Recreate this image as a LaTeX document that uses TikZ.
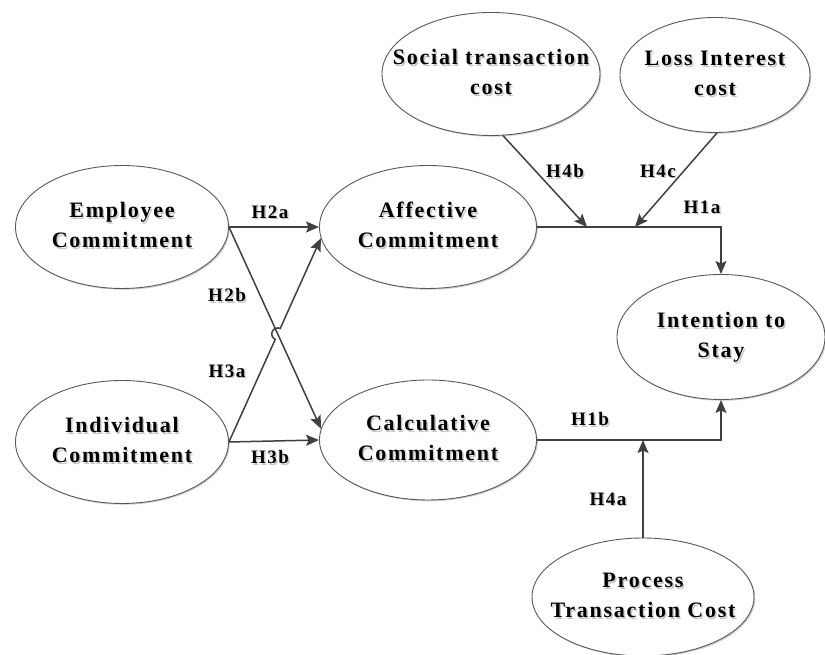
\documentclass[tikz,border=0pt]{standalone}
\usepackage{fontspec}
\usepackage{xcolor}
\usetikzlibrary{shapes.geometric,arrows.meta,calc,intersections,shadows}
\newfontfamily\nf{Liberation Serif}[LetterSpace=8.0]
\newcommand\sh[1]{\makebox[0pt][l]{\hspace{1.5pt}\raisebox{-1.5pt}{\textcolor{black!22}{#1}}}#1}
\newcommand\two[2]{\makebox[0pt]{\begin{tabular}{@{}c@{}}\sh{#1}\\\sh{#2}\end{tabular}}}
\begin{document}
\begin{tikzpicture}[x=1pt,y=1pt,
  ell/.style={ellipse, draw=black!65, line width=0.9pt, fill=white, inner sep=0pt,
    drop shadow={opacity=0.3, shadow xshift=1.3pt, shadow yshift=-1.3pt, fill=black!60},
    font=\nf\bfseries\fontsize{22}{30}\selectfont},
  conn/.style={draw=black!75, line width=1.5pt, line join=miter,
    -{Stealth[length=13pt,width=11pt,inset=2.5pt]}},
  lab/.style={font=\nf\bfseries\fontsize{19}{22}\selectfont, inner sep=0pt}]
\useasboundingbox (0,0) rectangle (825,655);
% nodes
\node[ell, minimum width=213pt, minimum height=123pt] (emp) at (122,428) {\two{Employee}{Commitment}};
\node[ell, minimum width=213pt, minimum height=123pt] (ind) at (122,213) {\two{Individual}{Commitment}};
\node[ell, minimum width=217pt, minimum height=123pt] (aff) at (428,428) {\two{Affective}{Commitment}};
\node[ell, minimum width=217pt, minimum height=120pt] (cal) at (428,215) {\two{Calculative}{Commitment}};
\node[ell, minimum width=218pt, minimum height=123pt] (soc) at (491,581) {\two{Social transaction}{cost}};
\node[ell, minimum width=190pt, minimum height=115pt] (loss) at (715,580) {\two{Loss Interest}{cost}};
\node[ell, minimum width=208pt, minimum height=125pt] (int) at (721,318) {\two{Intention to}{Stay}};
\node[ell, minimum width=222pt, minimum height=118pt] (proc) at (643,58) {\two{Process}{Transaction Cost}};
% junction points
\coordinate (j4b) at (587,428);
\coordinate (j4c) at (635,428);
\coordinate (j4a) at (proc.north |- cal.east);
% connectors
\draw[conn] (emp.east) -- (aff.west);
\draw[conn] (ind.east) -- (cal.west);
\draw[conn] (emp.east) -- (cal.174);
\path[name path=p2b] (emp.east) -- (cal.174);
\path[name path=p3a] (ind.east) -- (aff.186);
\path[name intersections={of=p2b and p3a, by=X}];
\draw[conn] (ind.east) -- ($(X)!6pt!(ind.east)$) arc[start angle=245.5, end angle=65.5, radius=6pt] -- (aff.186);
\draw[conn] (aff.east) -| (int.north);
\draw[conn] (cal.east) -| (int.south);
\draw[conn] (soc.281) -- (j4b);
\draw[conn] (loss.272) -- (j4c);
\draw[conn] (proc.north) -- (j4a);
% labels
\node[lab] (l2a) at (270,442) {\sh{H2a}};
\node[lab] (l2b) at (227,359) {\sh{H2b}};
\node[lab] (l3a) at (227,283) {\sh{H3a}};
\node[lab] (l3b) at (270,197) {\sh{H3b}};
\node[lab] (l4b) at (565,483) {\sh{H4b}};
\node[lab] (l4c) at (658,483) {\sh{H4c}};
\node[lab] (l1a) at (702,447) {\sh{H1a}};
\node[lab] (l1b) at (590,235) {\sh{H1b}};
\node[lab] (l4a) at (608,155) {\sh{H4a}};
\end{tikzpicture}
\end{document}
